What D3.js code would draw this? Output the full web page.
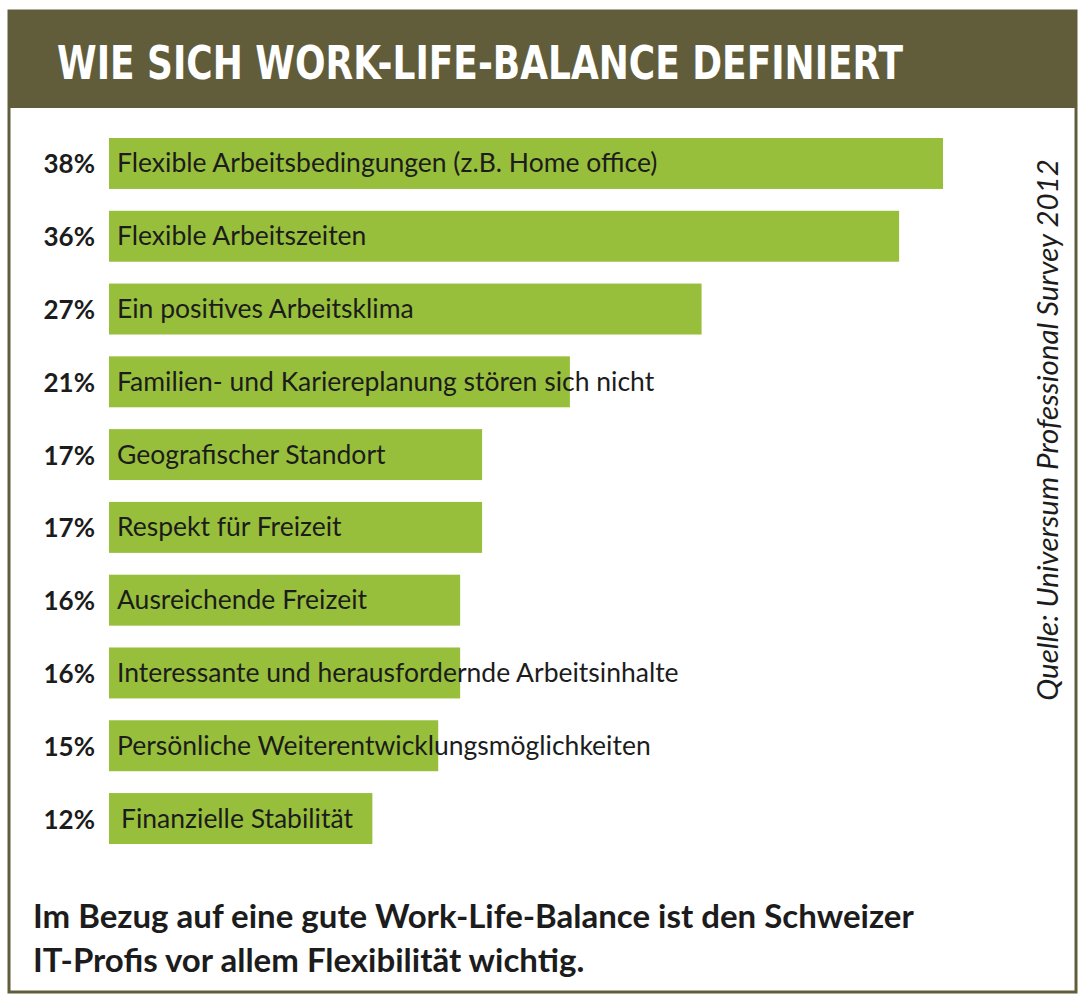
<!DOCTYPE html>
<html>
<head>
<meta charset="utf-8">
<script src="https://cdn.jsdelivr.net/npm/d3@7"></script>
<style>
  body { margin: 0; background: #fff; }
  svg { display: block; }
</style>
</head>
<body>
<svg id="chart" width="1084" height="1003"></svg>
<script>
// data
const categories = [
	'Flexible Arbeitsbedingungen (z.B. Home office)',
	'Flexible Arbeitszeiten',
	'Ein positives Arbeitsklima',
	'Familien- und Kariereplanung stören sich nicht',
	'Geografischer Standort',
	'Respekt für Freizeit',
	'Ausreichende Freizeit',
	'Interessante und herausfordernde Arbeitsinhalte',
	'Persönliche Weiterentwicklungsmöglichkeiten',
	'Finanzielle Stabilität'
];
const values = [ 38, 36, 27, 21, 17, 17, 16, 16, 15, 12 ];
const title = 'WIE SICH WORK-LIFE-BALANCE DEFINIERT';
const source = 'Quelle: Universum Professional Survey 2012';
const footer = [
	'Im Bezug auf eine gute Work-Life-Balance ist den Schweizer',
	'IT-Profis vor allem Flexibilität wichtig.'
];

const olive = '#615d3b',
	green = '#97bf3b',
	ink = '#1c1c1c';

const svg = d3.select( '#chart' );

// frame + header band
svg.append( 'rect' )
	.attr( 'x', 9 ).attr( 'y', 11 )
	.attr( 'width', 1067 ).attr( 'height', 981 )
	.attr( 'fill', '#fff' )
	.attr( 'stroke', olive )
	.attr( 'stroke-width', 3 );

svg.append( 'rect' )
	.attr( 'x', 8 ).attr( 'y', 10 )
	.attr( 'width', 1069 ).attr( 'height', 98 )
	.attr( 'fill', olive );

svg.append( 'text' )
	.attr( 'x', 57 ).attr( 'y', 79 )
	.attr( 'fill', '#fff' )
	.attr( 'textLength', 846 )
	.attr( 'lengthAdjust', 'spacingAndGlyphs' )
	.style( 'font-family', '"Liberation Sans Narrow", "DejaVu Sans Condensed", sans-serif' )
	.style( 'font-weight', 'bold' )
	.style( 'font-size', '47px' )
	.text( title );

const x = d3.scaleLinear().domain( [ 0, 38 ] ).range( [ 109, 943 ] ),
	y = d3.scaleBand().domain( categories ).range( [ 138, 844 ] ).paddingInner( 0.3 );

const rows = svg.append( 'g' )
	.selectAll( 'g.row' )
	.data( categories.map( ( c, i ) => ( { label: c, value: values[ i ] } ) ) )
	.enter()
	.append( 'g' )
	.attr( 'class', 'row' );

rows.append( 'rect' )
	.attr( 'x', x( 0 ) )
	.attr( 'y', ( d ) => y( d.label ) )
	.attr( 'width', ( d ) => x( d.value ) - x( 0 ) )
	.attr( 'height', y.bandwidth() )
	.attr( 'fill', green );

rows.append( 'text' )
	.attr( 'x', 95 )
	.attr( 'y', ( d ) => y( d.label ) + y.bandwidth() / 2 + 10 )
	.attr( 'text-anchor', 'end' )
	.attr( 'fill', ink )
	.style( 'font-family', 'Lato, sans-serif' )
	.style( 'font-weight', 'bold' )
	.style( 'font-size', '26px' )
	.text( ( d ) => d.value + '%' );

rows.append( 'text' )
	.attr( 'x', ( d, i ) => i === categories.length - 1 ? 121 : 117 )
	.attr( 'y', ( d ) => y( d.label ) + y.bandwidth() / 2 + 9 )
	.attr( 'fill', ink )
	.style( 'font-family', 'Lato, sans-serif' )
	.style( 'font-size', '26.5px' )
	.text( ( d ) => d.label );

// vertical source note
svg.append( 'text' )
	.attr( 'transform', 'translate(1058 430) rotate(-90)' )
	.attr( 'text-anchor', 'middle' )
	.attr( 'fill', ink )
	.style( 'font-family', 'Lato, sans-serif' )
	.style( 'font-style', 'italic' )
	.style( 'font-size', '29.5px' )
	.text( source );

svg.append( 'g' )
	.selectAll( 'text' )
	.data( footer )
	.enter()
	.append( 'text' )
	.attr( 'x', 33 )
	.attr( 'y', ( d, i ) => 928 + i * 44 )
	.attr( 'fill', ink )
	.style( 'font-family', 'Lato, sans-serif' )
	.style( 'font-weight', 'bold' )
	.style( 'font-size', '33px' )
	.text( ( d ) => d );
</script>
</body>
</html>
